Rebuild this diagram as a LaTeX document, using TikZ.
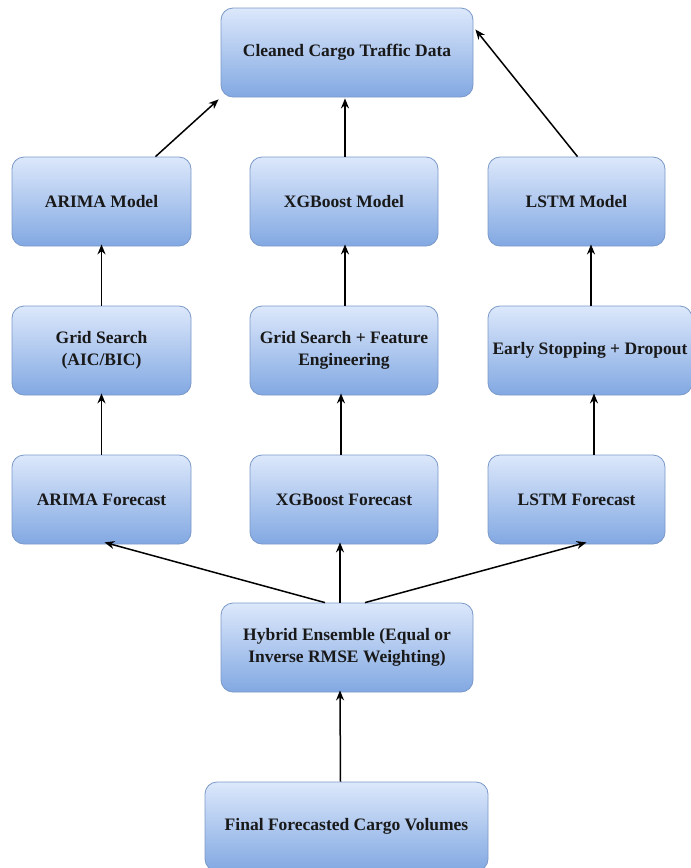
\documentclass[tikz,border=0pt]{standalone}
\usepackage{fontspec}
\setmainfont{Liberation Serif}
\usetikzlibrary{arrows.meta,calc}
\definecolor{boxtop}{HTML}{DCE8FB}
\definecolor{boxbot}{HTML}{82A8E2}
\definecolor{boxline}{HTML}{7A98C8}
\tikzset{
  box/.style={draw=boxline, line width=0.8pt, rounded corners=12pt,
    top color=boxtop, bottom color=boxbot, align=center,
    font=\bfseries\fontsize{17.5}{22}\selectfont, text=black!90,
    inner sep=0pt},
  conn/.style={-{Stealth[length=10pt,width=8pt]}, line width=1.5pt, black}
}
\begin{document}
\begin{tikzpicture}[x=1pt,y=-1pt]
\useasboundingbox (0,0) rectangle (691,868);
\node[box, minimum width=252pt, minimum height=89pt] (clean) at (347,52.5) {Cleaned Cargo Traffic Data};
\node[box, minimum width=179pt, minimum height=89pt] (am) at (101.5,201.5) {ARIMA Model};
\node[box, minimum width=188pt, minimum height=89pt] (xm) at (344,201.5) {XGBoost Model};
\node[box, minimum width=177pt, minimum height=89pt] (lm) at (576.5,201.5) {LSTM Model};
\node[box, minimum width=179pt, minimum height=89pt] (ag) at (101.5,350.5) {Grid Search\\(AIC/BIC)};
\node[box, minimum width=188pt, minimum height=89pt] (xg) at (344,350.5) {Grid Search + Feature\\Engineering};
\node[box, minimum width=204pt, minimum height=89pt] (lg) at (590,350.5) {Early Stopping + Dropout};
\node[box, minimum width=179pt, minimum height=89pt] (af) at (101.5,499.5) {ARIMA Forecast};
\node[box, minimum width=188pt, minimum height=89pt] (xf) at (344,499.5) {XGBoost Forecast};
\node[box, minimum width=177pt, minimum height=89pt] (lf) at (576.5,499.5) {LSTM Forecast};
\node[box, minimum width=252pt, minimum height=89pt] (hy) at (347,647.5) {Hybrid Ensemble (Equal or\\Inverse RMSE Weighting)};
\node[box, minimum width=283pt, minimum height=89pt] (fin) at (346.5,826.5) {Final Forecasted Cargo Volumes};

\draw[conn] ([xshift=54pt]am.north) -- ([xshift=-2pt,yshift=-2pt]clean.south west);
\draw[conn] ([xshift=1pt]xm.north) -- ([xshift=-2pt,yshift=-1pt]clean.south);
\draw[conn] ([xshift=1pt]lm.north) -- ([xshift=2pt,yshift=23pt]clean.east);
\draw[conn] (ag.north) -- ([yshift=2pt]am.south);
\draw[conn] ([xshift=1pt]xg.north) -- ([xshift=1pt,yshift=2pt]xm.south);
\draw[conn] ([xshift=1pt]lg.north) -- ([xshift=14.5pt,yshift=2pt]lm.south);
\draw[conn] (af.north) -- ([yshift=2pt]ag.south);
\draw[conn] ([xshift=-3pt]xf.north) -- ([xshift=-3pt,yshift=2pt]xg.south);
\draw[conn] ([xshift=17.5pt]lf.north) -- ([xshift=4pt,yshift=2pt]lg.south);
\draw[conn] ([xshift=-22pt]hy.north) -- ([xshift=3pt,yshift=2pt]af.south);
\draw[conn] ([xshift=-7pt]hy.north) -- ([xshift=-4pt,yshift=2pt]xf.south);
\draw[conn] ([xshift=18pt]hy.north) -- ([xshift=10pt,yshift=2pt]lf.south);
\draw[conn] ([xshift=-6pt]fin.north) -- ([xshift=-7pt,yshift=2pt]hy.south);
\end{tikzpicture}
\end{document}
